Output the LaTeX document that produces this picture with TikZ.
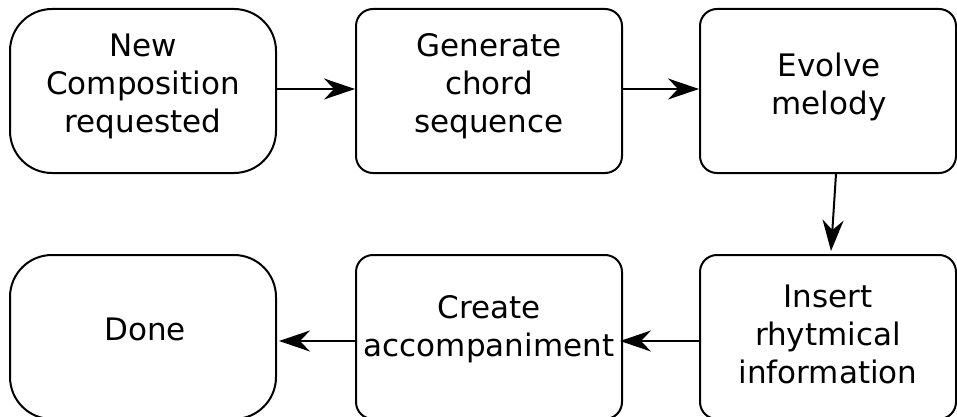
\documentclass[tikz,border=0pt]{standalone}
\usepackage{fontspec}
\setmainfont{DejaVu Sans}
\usetikzlibrary{arrows.meta,calc}
\begin{document}
\begin{tikzpicture}[x=1pt,y=-1pt,
  stepbox/.style={draw, line width=2pt, rounded corners=17pt, minimum width=266pt, minimum height=164pt, inner sep=0pt},
  termbox/.style={stepbox, rounded corners=42pt},
  lbl/.style={font=\fontsize{31}{38}\selectfont, align=center, inner sep=0pt},
  arr/.style={line width=2pt, -{Stealth[length=31pt,width=21pt,inset=10pt]}}]
\useasboundingbox (0,0) rectangle (957,417);
% boxes
\node[termbox] (b1) at (143,91) {};
\node[stepbox] (b2) at (489,91) {};
\node[stepbox, minimum width=256pt] (b3) at (828,91) {};
\node[termbox] (b4) at (143,337) {};
\node[stepbox] (b5) at (489,337) {};
\node[stepbox, minimum width=256pt] (b6) at (828,337) {};
% labels
\node[lbl] (t1) at (143,86) {New\\Composition\\requested};
\node[lbl] (t2) at (489,86) {Generate\\chord\\sequence};
\node[lbl] (t3) at (829,86.5) {Evolve\\melody};
\node[lbl] (t4) at (145,329) {Done};
\node[lbl] (t5) at (489,329) {Create\\accompaniment};
\node[lbl] (t6) at (828,334) {Insert\\rhytmical\\information};
% connectors
\draw[arr] ($(b1.east)+(0,-2)$) -- ($(b2.west)+(0,-2)$);
\draw[arr] ($(b2.east)+(0,-2)$) -- ($(b3.west)+(0,-2)$);
\draw[arr] ($(b3.south)+(8,0)$) -- ($(b6.north)+(3,-3)$);
\draw[arr] ($(b6.west)+(0,4)$) -- ($(b5.east)+(-3,4)$);
\draw[arr] ($(b5.west)+(0,4)$) -- ($(b4.east)+(2,4)$);
\end{tikzpicture}
\end{document}
